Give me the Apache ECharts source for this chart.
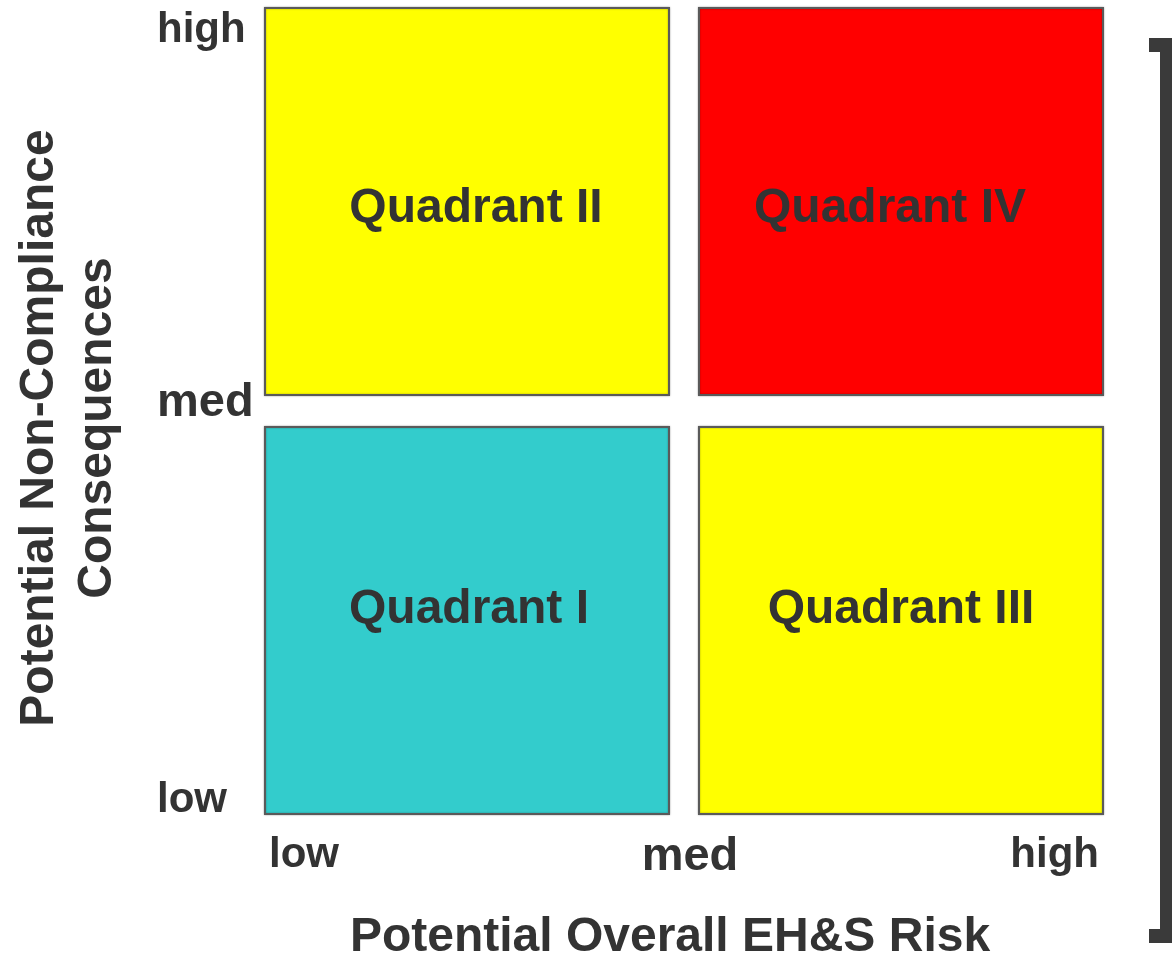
<!DOCTYPE html>
<html>
<head>
<meta charset="utf-8">
<script src="https://cdn.jsdelivr.net/npm/echarts@6/dist/echarts.min.js"></script>
<style>
  html, body { margin: 0; padding: 0; background: #fff; }
  #chart { width: 1172px; height: 953px; }
</style>
</head>
<body>
<div id="chart"></div>
<script>
// tick labels for both axes
const xTickLabels = ['low', 'med', 'high'];
const yTickLabels = ['low', 'med', 'high'];

// quadrants: [xFrom, xTo], [yFrom, yTo] in axis units
const quadrantNames = ['Quadrant I', 'Quadrant II', 'Quadrant III', 'Quadrant IV'];
const quadrantX = [[0, 1], [0, 1], [1, 2], [1, 2]];
const quadrantY = [[0, 1], [1, 2], [0, 1], [1, 2]];
const quadrantColors = ['#33cccc', '#ffff00', '#ffff00', '#ff0000'];

const xTitle = 'Potential Overall EH&S Risk';
const yTitle = 'Potential Non-Compliance\nConsequences';

const textColor = '#333333';
const fontFamily = '"Liberation Sans", Arial, sans-serif';
const GAP = 15;
// small nudges of the quadrant captions, in pixels
const captionNudge = [[2, -11], [9, 7], [0, -11], [-11, 7]];

function xTickFormatter(value)
{
    const label = xTickLabels[Math.round(value)];
    return value === 1 ? '{big|' + label + '}' : label;
}

function yTickFormatter(value)
{
    const label = yTickLabels[Math.round(value)];
    if (value === 0) return '{lo|' + label + '}';
    if (value === 1) return '{mid|' + label + '}';
    return '{hi|' + label + '}';
}

function renderQuadrant(params, api)
{
    const i = params.dataIndex;
    const x = quadrantX[i], y = quadrantY[i];
    const p0 = api.coord([x[0], y[1]]);
    const p1 = api.coord([x[1], y[0]]);
    let left = p0[0], top = p0[1], right = p1[0], bottom = p1[1];
    if (x[0] === 1) left += GAP;
    if (x[1] === 1) right -= GAP;
    if (y[1] === 1) top += GAP + 1;
    if (y[0] === 1) bottom -= GAP + 1;

    return {
        type: 'group',
        children: [{
            type: 'rect',
            shape: { x: left, y: top, width: right - left, height: bottom - top },
            style: {
                fill: quadrantColors[i],
                stroke: '#5a5a5a',
                lineWidth: 2,
                shadowColor: 'rgba(0,0,0,0.35)',
                shadowBlur: 2
            }
        }, {
            type: 'text',
            x: (left + right) / 2 + captionNudge[i][0],
            y: (top + bottom) / 2 + captionNudge[i][1],
            style: {
                text: quadrantNames[i],
                fill: textColor,
                font: 'bold 48px ' + fontFamily,
                align: 'center',
                verticalAlign: 'middle'
            }
        }]
    };
}

const labelFont = { fontWeight: 'bold', fontFamily: fontFamily, color: textColor };

const chart = echarts.init(document.getElementById('chart'));

chart.setOption({
    backgroundColor: '#ffffff',
    animation: false,
    grid: { left: 265, right: 69, top: 8, bottom: 139, containLabel: false, outerBoundsMode: 'none' },
    xAxis: {
        type: 'value',
        min: 0,
        max: 2,
        interval: 1,
        name: xTitle,
        nameLocation: 'middle',
        nameGap: 100,
        nameTextStyle: {
            color: textColor, fontSize: 48, fontWeight: 'bold', fontFamily: fontFamily,
            padding: [0, 28, 0, 0]
        },
        axisLine: { show: false },
        axisTick: { show: false },
        splitLine: { show: false },
        axisLabel: {
            margin: 20,
            color: textColor,
            fontSize: 42,
            fontWeight: 'bold',
            fontFamily: fontFamily,
            alignMinLabel: 'left',
            alignMaxLabel: 'right',
            padding: [0, 4, 0, 4],
            formatter: xTickFormatter,
            rich: { big: Object.assign({ fontSize: 47, padding: [0, 0, 0, 12] }, labelFont) }
        }
    },
    yAxis: {
        type: 'value',
        min: 0,
        max: 2,
        interval: 1,
        name: yTitle,
        nameLocation: 'middle',
        nameGap: 138,
        nameTextStyle: {
            color: textColor, fontSize: 48, fontWeight: 'bold', fontFamily: fontFamily,
            lineHeight: 58, align: 'center', padding: [0, 34, 0, 0]
        },
        axisLine: { show: false },
        axisTick: { show: false },
        splitLine: { show: false },
        axisLabel: {
            margin: 108,
            align: 'left',
            color: textColor,
            fontSize: 42,
            fontWeight: 'bold',
            fontFamily: fontFamily,
            verticalAlignMinLabel: 'bottom',
            verticalAlignMaxLabel: 'top',
            formatter: yTickFormatter,
            rich: {
                lo: Object.assign({ fontSize: 42, lineHeight: 28 }, labelFont),
                mid: Object.assign({ fontSize: 47, lineHeight: 50, padding: [0, 0, 16, 0] }, labelFont),
                hi: Object.assign({ fontSize: 42, lineHeight: 44 }, labelFont)
            }
        }
    },
    graphic: [
        { type: 'rect', shape: { x: 1149, y: 38, width: 23, height: 14 }, style: { fill: '#3a3a3a' } },
        { type: 'rect', shape: { x: 1160, y: 38, width: 12, height: 905 }, style: { fill: '#3a3a3a' } },
        { type: 'rect', shape: { x: 1149, y: 929, width: 23, height: 14 }, style: { fill: '#3a3a3a' } }
    ],
    series: [{
        type: 'custom',
        renderItem: renderQuadrant,
        data: quadrantNames.map((name, i) => [quadrantX[i][0], quadrantY[i][0], quadrantX[i][1], quadrantY[i][1]]),
        encode: { x: [0, 2], y: [1, 3] },
        silent: true
    }]
});
</script>
</body>
</html>
